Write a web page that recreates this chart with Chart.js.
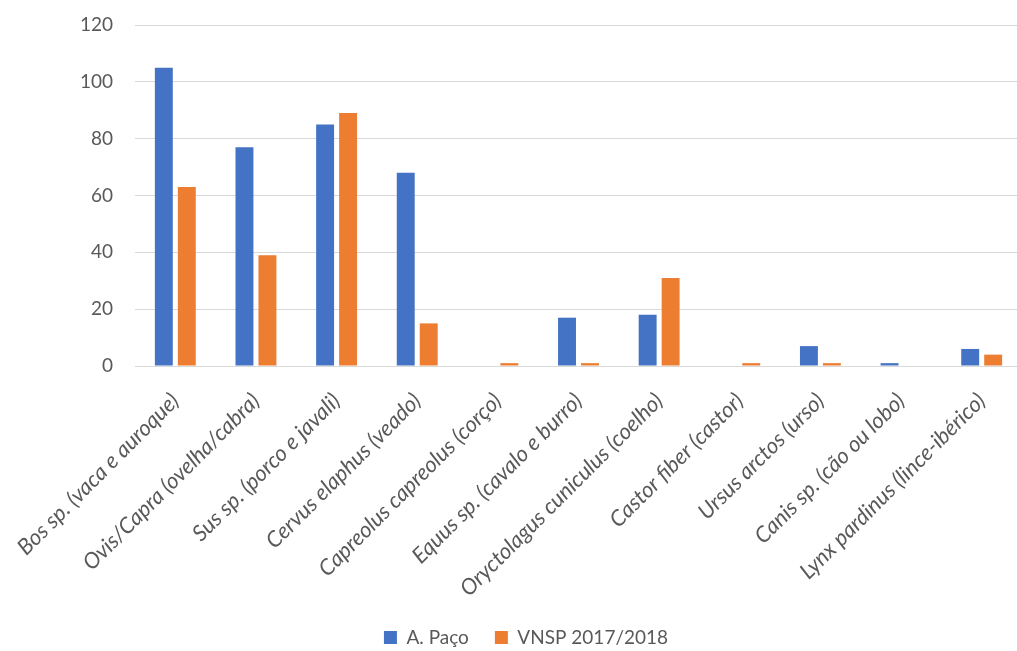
<!DOCTYPE html>
<html>
<head>
<meta charset="utf-8">
<script src="https://cdn.jsdelivr.net/npm/chart.js@4"></script>
<style>
html,body{margin:0;padding:0;background:#fff;overflow:hidden;width:1017px;height:651px;}
#wrap{width:1022px;height:657px;}
</style>
</head>
<body>
<div id="wrap"><canvas id="c" width="1022" height="657"></canvas></div>
<script>
const categories = [
  "Bos sp. (vaca e auroque)",
  "Ovis/Capra (ovelha/cabra)",
  "Sus sp. (porco e javali)",
  "Cervus elaphus (veado)",
  "Capreolus capreolus (corço)",
  "Equus sp. (cavalo e burro)",
  "Oryctolagus cuniculus (coelho)",
  "Castor fiber (castor)",
  "Ursus arctos (urso)",
  "Canis sp. (cão ou lobo)",
  "Lynx pardinus (lince-ibérico)"
];
const aPaco = [105, 77, 85, 68, 0, 17, 18, 0, 7, 1, 6];
const vnsp = [63, 39, 89, 15, 1, 1, 31, 1, 1, 0, 4];
const seriesNames = ["A. Paço", "VNSP 2017/2018"];
const yTicks = [0, 20, 40, 60, 80, 100, 120];

const grey = "#595959";
new Chart(document.getElementById("c"), {
  type: "bar",
  data: {
    labels: categories,
    datasets: [
      { label: seriesNames[0], data: aPaco, backgroundColor: "#4472C4", barPercentage: 0.78, categoryPercentage: 0.57 },
      { label: seriesNames[1], data: vnsp, backgroundColor: "#ED7D31", barPercentage: 0.78, categoryPercentage: 0.57 }
    ]
  },
  options: {
    responsive: false,
    devicePixelRatio: 1,
    animation: false,
    layout: { padding: { left: 30, top: 25, right: 0, bottom: 0 } },
    plugins: {
      legend: {
        position: "bottom",
        labels: {
          boxWidth: 13, boxHeight: 13, padding: 26, color: grey,
          font: { family: "Lato", size: 19 }
        }
      },
      tooltip: { enabled: false }
    },
    scales: {
      x: {
        grid: { display: false, drawTicks: false },
        border: { display: false },
        ticks: {
          color: grey, maxRotation: 45, minRotation: 45, padding: 22, autoSkip: false,
          font: { family: "Lato", size: 22, style: "italic" }
        },
        afterFit: (s) => { s.height = 236; s.paddingTop = 0; s.paddingLeft = 0; s.paddingRight = 0; }
      },
      y: {
        min: 0, max: 120,
        afterBuildTicks: (s) => { s.ticks = yTicks.map(v => ({ value: v })); },
        grid: { color: "#d9d9d9", lineWidth: 1, drawTicks: false },
        border: { display: false },
        ticks: { color: grey, padding: 22, font: { family: "Lato", size: 19 } },
        afterFit: (s) => { s.width = 105; s.paddingTop = 0; s.paddingBottom = 0; }
      }
    }
  }
});
</script>
</body>
</html>
